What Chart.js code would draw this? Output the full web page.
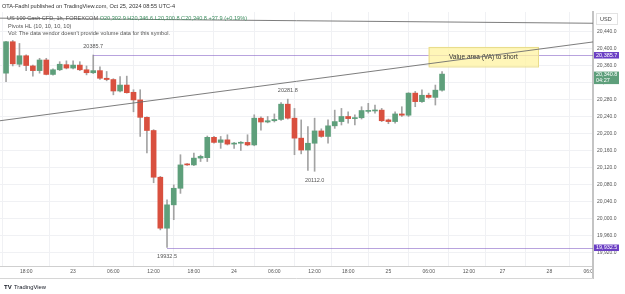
<!DOCTYPE html>
<html>
<head>
<meta charset="utf-8">
<script src="https://cdn.jsdelivr.net/npm/chart.js@4.4.1/dist/chart.umd.min.js"></script>
<style>
html,body{margin:0;padding:0;background:#fff;}
#wrap{position:relative;width:625px;height:294px;}
</style>
</head>
<body>
<div id="wrap"><canvas id="c" width="625" height="294"></canvas></div>
<script>
// ---- Data (US 100 Cash CFD, 1h) ----
const opens  = [20343,20417,20364,20384,20360,20349,20374,20340,20351,20363,
                20355,20362,20351,20344,20349,20331,20328,20301,20315,20298,
                20280,20239,20208,20098,19978,20033,20072,20129,20127,20143,
                20144,20192,20180,20186,20176,20178,20180,20174,20237,20228,
                20231,20234,20270,20237,20190,20162,20178,20207,20194,20219,
                20229,20241,20236,20238,20253,20254,20256,20233,20229,20247,
                20244,20296,20276,20291,20286,20302.9];
const highs  = [20418,20420,20413,20386,20362,20378,20378,20353,20370,20372,
                20372,20370,20360,20385.7,20358,20347,20330,20335,20336,20304,
                20304,20240,20210,20100,20045,20080,20151,20130,20155,20150,
                20195,20194,20194,20198,20180,20182,20198,20245,20240,20241,
                20247,20274,20281.8,20260,20233,20217,20237,20212,20233,20256,
                20260,20252,20245,20264,20272,20268,20260,20235,20252,20264,
                20297,20300,20304,20296,20315,20346.6];
const lows   = [20323,20360,20358,20349,20336,20343,20339,20338,20349,20353,
                20353,20349,20339,20342,20328,20325,20292,20299,20296,20252,
                20194,20155,20085,19974,19932.5,19998,20060,20126,20125,20135,
                20135,20178,20166,20174,20166,20161,20172,20172,20209,20226,
                20228,20232,20235,20151,20153,20114,20112,20192,20178,20213,
                20221,20225,20221,20235,20249,20249,20229,20224,20225,20241,
                20241,20264,20274,20284,20268,20300.8];
const closes = [20417,20365,20384,20361,20349,20374,20340,20351,20364,20355,
                20362,20351,20344,20349,20331,20328,20301,20315,20297,20280,
                20239,20208,20098,19978,20033,20072,20127,20127,20143,20147,
                20192,20180,20186,20176,20178,20180,20174,20237,20228,20231,
                20234,20270,20237,20190,20162,20178,20207,20194,20219,20229,
                20241,20236,20238,20255,20255,20256,20231,20229,20247,20244,
                20296,20276,20291,20286,20303,20340.8];

// time axis: bar index of each label
const xTickIdx    = [3,10,16,22,28,34,40,46,51,57,63,69,74,81,87];
const xTickLabels = ['18:00','23','06:00','12:00','18:00','24','06:00','12:00','18:00','25','06:00','12:00','27','28','06:00'];
const yTickValues = [19920,19960,20000,20040,20080,20120,20160,20200,20240,20280,20320,20360,20400,20440];

// pivots (HL 10,10,10,10)
const pivotIdx   = [13, 42, 46, 24];
const pivotPrice = [20385.7, 20281.8, 20112.0, 19932.5];
const pivotSide  = ['high','high','low','low'];

// drawn trend lines: [idxStart, priceStart, idxEnd, priceEnd]
const trendA = [-0.9, 20472.5, 87.5, 20460.5];
const trendB = [-0.9, 20231, 87.5, 20416.5];
// value-area box: [idxStart, priceTop, idxEnd, priceBottom]
const vaBox  = [63.0, 20404.7, 79.3, 20358.8];
const vaText = 'Value area (VA) to short';

const lastClose = 20340.8;
const countdown = '04:27';

const UP = '#5e9f7b', DOWN = '#d9503f', WICK = '#a3a3a3';
const FONT = '"Liberation Sans", Arial, sans-serif';
const fmt = v => v.toLocaleString('en-US',{minimumFractionDigits:1, maximumFractionDigits:1});

const idx = opens.map((_, i) => i);
const bodies = idx.map(i => ({x:i, y:[opens[i], closes[i]]}));
const wicks  = idx.map(i => ({x:i, y:[lows[i], highs[i]]}));
const bodyColors = idx.map(i => closes[i] >= opens[i] ? UP : DOWN);

const overlay = {
  id: 'overlay',
  afterDatasetsDraw(chart) {
    const {ctx, chartArea: a, scales: {x, y}} = chart;
    ctx.save();
    ctx.beginPath(); ctx.rect(a.left, a.top, a.right - a.left, a.bottom - a.top); ctx.clip();
    // pivot horizontal lines
    ctx.strokeStyle = 'rgba(126,87,194,0.55)'; ctx.lineWidth = 1;
    [0, 3].forEach(k => {
      const py = Math.round(y.getPixelForValue(pivotPrice[k])) + 0.5;
      ctx.beginPath(); ctx.moveTo(x.getPixelForValue(pivotIdx[k]), py); ctx.lineTo(a.right, py); ctx.stroke();
    });
    // VA box
    const bx1 = x.getPixelForValue(vaBox[0]), bx2 = x.getPixelForValue(vaBox[2]);
    const by1 = y.getPixelForValue(vaBox[1]), by2 = y.getPixelForValue(vaBox[3]);
    ctx.fillStyle = 'rgba(255,243,160,0.75)';
    ctx.fillRect(bx1, by1, bx2 - bx1, by2 - by1);
    ctx.strokeStyle = '#e9dc8a'; ctx.strokeRect(bx1 + 0.5, by1 + 0.5, bx2 - bx1, by2 - by1);
    ctx.fillStyle = '#333'; ctx.font = '6.5px ' + FONT; ctx.textAlign = 'center'; ctx.textBaseline = 'middle';
    ctx.fillText(vaText, (bx1 + bx2) / 2, (by1 + by2) / 2);
    // trend lines
    ctx.strokeStyle = '#6e6e6e'; ctx.lineWidth = 0.9;
    [trendA, trendB].forEach(t => {
      ctx.beginPath();
      ctx.moveTo(x.getPixelForValue(t[0]), y.getPixelForValue(t[1]));
      ctx.lineTo(x.getPixelForValue(t[2]), y.getPixelForValue(t[3]));
      ctx.stroke();
    });
    // pivot labels
    ctx.font = '5.5px ' + FONT; ctx.fillStyle = '#555';
    pivotIdx.forEach((pi, k) => {
      const px = x.getPixelForValue(pi), py = y.getPixelForValue(pivotPrice[k]);
      ctx.fillText(pivotPrice[k].toFixed(1), px, pivotSide[k] === 'high' ? py - 9 : py + 9);
    });
    ctx.restore();
  },
  afterDraw(chart) {
    const {ctx, chartArea: a, scales: {y}} = chart;
    ctx.save();
    // price-axis panel covers the time axis end
    ctx.fillStyle = '#fff'; ctx.fillRect(a.right + 1, a.bottom + 1, 40, 12);
    ctx.strokeStyle = '#c4c4c4'; ctx.lineWidth = 2;
    ctx.beginPath(); ctx.moveTo(a.right, a.bottom); ctx.lineTo(a.right, 279); ctx.stroke();
    // bottom border of time axis
    ctx.strokeStyle = '#d6d6d6'; ctx.lineWidth = 1;
    ctx.beginPath(); ctx.moveTo(0, 278.5); ctx.lineTo(a.right, 278.5); ctx.stroke();
    // price tags
    ctx.textAlign = 'left'; ctx.textBaseline = 'middle'; ctx.font = '5.5px ' + FONT;
    [0, 3].forEach(k => {
      const py = y.getPixelForValue(pivotPrice[k]);
      ctx.fillStyle = '#6b3fc4'; ctx.fillRect(a.right + 1, py - 3, 25, 6.5);
      ctx.fillStyle = '#fff'; ctx.fillText(fmt(pivotPrice[k]), a.right + 3, py + 0.3);
    });
    const cy = y.getPixelForValue(lastClose);
    ctx.fillStyle = UP; ctx.fillRect(a.right + 1, cy - 2.5, 25, 12.5);
    ctx.fillStyle = '#fff';
    ctx.fillText(fmt(lastClose), a.right + 3, cy + 0.7);
    ctx.fillText(countdown, a.right + 3, cy + 6.5);
    // USD box
    ctx.fillStyle = '#fff'; ctx.fillRect(596, 13, 21, 11);
    ctx.strokeStyle = '#e3e3e3'; ctx.strokeRect(596.5, 13.5, 21, 11);
    ctx.fillStyle = '#444'; ctx.fillText('USD', 600, 19);
    // header
    ctx.textBaseline = 'middle';
    ctx.font = '5.6px ' + FONT; ctx.fillStyle = '#333';
    ctx.fillText('OTA-Fadhl published on TradingView.com, Oct 25, 2024 08:55 UTC-4', 2, 6.5);
    ctx.fillStyle = '#555';
    const t1 = 'US 100 Cash CFD, 1h, FOREXCOM ';
    ctx.fillText(t1, 7, 18.5);
    ctx.fillStyle = '#3f8f61';
    ctx.fillText('O20,302.9 H20,346.6 L20,300.8 C20,340.8 +37.9 (+0.19%)', 7 + ctx.measureText(t1).width, 18.5);
    ctx.fillStyle = '#555';
    ctx.fillText('Pivots HL (10, 10, 10, 10)', 8, 26);
    ctx.fillText("Vol: The data vendor doesn't provide volume data for this symbol.", 8, 33.5);
    // footer logo
    ctx.font = 'bold 6px ' + FONT; ctx.fillStyle = '#131722';
    ctx.fillText('TV', 4, 287);
    ctx.font = '5.8px ' + FONT;
    ctx.fillText('TradingView', 14, 287);
    ctx.restore();
  }
};

new Chart(document.getElementById('c'), {
  type: 'bar',
  data: {
    datasets: [
      {label:'wick', data: wicks, backgroundColor: WICK, barThickness: 1, grouped: false, order: 2, borderWidth: 0},
      {label:'body', data: bodies, backgroundColor: bodyColors, barThickness: 5, grouped: false, order: 1, borderWidth: 0, minBarLength: 1}
    ]
  },
  options: {
    responsive: false,
    animation: false,
    events: [],
    layout: {padding: {top: 12, bottom: 16, left: 0, right: 0}},
    plugins: {legend: {display: false}, tooltip: {enabled: false}},
    scales: {
      x: {
        type: 'linear', min: -0.9, max: 87.5, offset: false,
        afterBuildTicks: s => { s.ticks = xTickIdx.map(v => ({value: v})); },
        afterFit: s => { s.height = 12; },
        ticks: {autoSkip: false, maxRotation: 0, padding: 3, color: '#555',
                font: {size: 5, family: FONT},
                callback: (v) => { const k = xTickIdx.indexOf(v); return k >= 0 ? xTickLabels[k] : ''; }},
        grid: {color: '#f0f1f4', drawTicks: false},
        border: {color: '#cfcfcf', width: 1}
      },
      y: {
        type: 'linear', position: 'right', min: 19889, max: 20487,
        afterBuildTicks: s => { s.ticks = yTickValues.map(v => ({value: v})); },
        afterFit: s => { s.width = 32; },
        ticks: {padding: 4, color: '#555', font: {size: 5, family: FONT},
                callback: v => fmt(v)},
        grid: {color: '#f0f1f4', drawTicks: false},
        border: {color: '#c4c4c4', width: 2}
      }
    }
  },
  plugins: [overlay]
});
</script>
</body>
</html>
